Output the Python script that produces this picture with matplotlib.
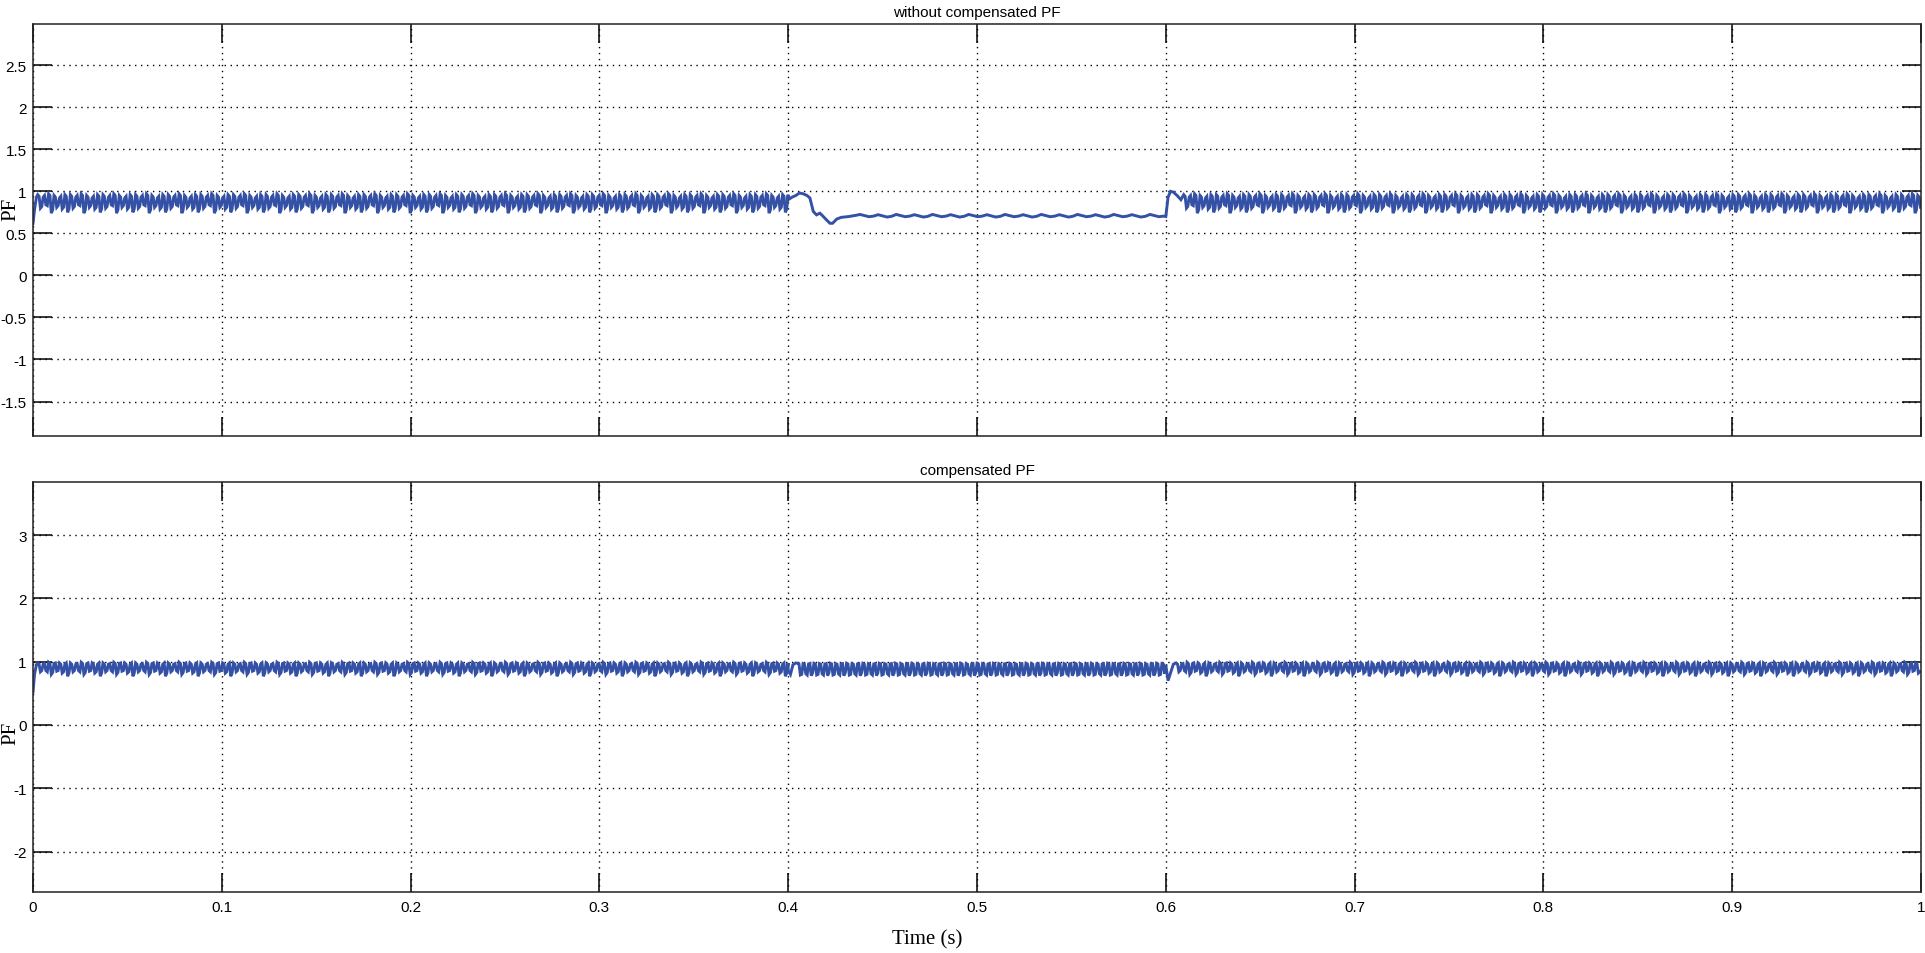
import numpy as np
import matplotlib
matplotlib.use("Agg")
import matplotlib.pyplot as plt

plt.rcParams['axes.unicode_minus'] = False

# ---------------- data ----------------
x_ticks = [0, 0.1, 0.2, 0.3, 0.4, 0.5, 0.6, 0.7, 0.8, 0.9, 1]
x_labels = ["0", "0.1", "0.2", "0.3", "0.4", "0.5", "0.6", "0.7", "0.8", "0.9", "1"]
top_yticks = [-1.5, -1, -0.5, 0, 0.5, 1, 1.5, 2, 2.5]
top_ylabels = ["-1.5", "-1", "-0.5", "0", "0.5", "1", "1.5", "2", "2.5"]
bot_yticks = [-2, -1, 0, 1, 2, 3]
bot_ylabels = ["-2", "-1", "0", "1", "2", "3"]

# ripple sample spacing (s) and measured ripple shapes
ripple_step = 0.00072
top_ripple = [0.96, 0.94, 0.80, 0.82, 0.93, 0.95, 0.84, 0.83, 0.97, 0.95, 0.74, 0.78,
              0.95, 0.93, 0.81, 0.83, 0.92, 0.94, 0.79, 0.81, 0.96, 0.94, 0.75, 0.79]
bot_ripple = [0.98, 0.96, 0.84, 0.86, 0.96, 0.97, 0.86, 0.84, 0.99, 0.97, 0.80, 0.83,
              0.97, 0.98, 0.85, 0.86, 0.98, 0.96, 0.82, 0.84, 0.96, 0.98, 0.77, 0.82]

# top trace: start-up
top_start_t = [0.0, 0.0008, 0.0018]
top_start_v = [0.62, 0.78, 0.93]
# top trace: load change at 0.4 s
top_event_t = [0.400, 0.402, 0.404, 0.406, 0.408, 0.410, 0.4115, 0.4133, 0.415,
               0.4168, 0.4186, 0.4203, 0.4221, 0.4235, 0.4257, 0.428, 0.432, 0.436]
top_event_v = [0.90, 0.93, 0.95, 0.98, 0.97, 0.95, 0.92, 0.76, 0.72,
               0.74, 0.70, 0.66, 0.62, 0.62, 0.67, 0.69, 0.70, 0.715]
mid_step = 0.0024
top_mid = [0.725, 0.712, 0.698, 0.705, 0.722, 0.708, 0.694, 0.703]
# top trace: return at 0.6 s
top_back_t = [0.600, 0.6012, 0.6025, 0.604, 0.606, 0.608]
top_back_v = [0.70, 0.93, 1.00, 0.99, 0.95, 0.90]

# bottom trace
bot_start_t = [0.0, 0.0008, 0.0018]
bot_start_v = [0.52, 0.80, 0.95]
bot_event_t = [0.400, 0.4012, 0.4025, 0.404]
bot_event_v = [0.86, 0.80, 0.95, 0.98]
bot_mid_step = 0.00072
bot_mid = [0.975, 0.965, 0.79, 0.80, 0.97, 0.96, 0.81, 0.79, 0.965, 0.97, 0.78, 0.82]
bot_back_t = [0.600, 0.6012, 0.6025, 0.604]
bot_back_v = [0.95, 0.70, 0.82, 0.96]


def segment(t0, t1, pattern, step):
    t = np.arange(t0, t1, step)
    v = np.resize(np.array(pattern), len(t))
    return t, v


def build(parts):
    ts = np.concatenate([np.asarray(p[0], float) for p in parts])
    vs = np.concatenate([np.asarray(p[1], float) for p in parts])
    return ts, vs


top_t, top_v = build([
    (top_start_t, top_start_v),
    segment(0.0025, 0.400, top_ripple, ripple_step),
    (top_event_t, top_event_v),
    segment(0.438, 0.600, top_mid, mid_step),
    (top_back_t, top_back_v),
    segment(0.6095, 1.0, top_ripple, ripple_step),
])

bot_t, bot_v = build([
    (bot_start_t, bot_start_v),
    segment(0.0025, 0.400, bot_ripple, ripple_step),
    (bot_event_t, bot_event_v),
    segment(0.405, 0.600, bot_mid, bot_mid_step),
    (bot_back_t, bot_back_v),
    segment(0.6055, 1.0, bot_ripple, ripple_step),
])

# ---------------- figure ----------------
W, H = 1925, 954
fig = plt.figure(figsize=(W / 100, H / 100), dpi=100)
fig.patch.set_facecolor('white')

L = 33 / W
Wd = (1921 - 33) / W
ax1 = fig.add_axes([L, 1 - 437 / H, Wd, (437 - 25) / H])
ax2 = fig.add_axes([L, 1 - 893 / H, Wd, (893 - 483) / H])

line_color = '#3451A6'
tick_font = dict(family='Liberation Sans', size=11)

for ax, t, v, yt, yl, ylim, title in [
    (ax1, top_t, top_v, top_yticks, top_ylabels, (-1.91, 2.99), 'without compensated PF'),
    (ax2, bot_t, bot_v, bot_yticks, bot_ylabels, (-2.64, 3.84), 'compensated PF'),
]:
    ax.plot(t, v, color=line_color, lw=2.1, solid_joinstyle='miter')
    ax.set_xlim(0, 1)
    ax.set_ylim(*ylim)
    ax.set_xticks(x_ticks)
    ax.set_yticks(yt)
    ax.set_yticklabels(yl, fontdict=tick_font)
    ax.grid(True, color='black', linestyle=(0, (1, 3.3)), linewidth=1.0)
    ax.tick_params(direction='in', length=13.9, width=1.1, top=True, right=True,
                   pad=4.5, colors='black')
    for s in ax.spines.values():
        s.set_linewidth(1.1)
        s.set_color('#222222')
    ax.set_title(title, fontsize=11, family='Liberation Sans', pad=6)

ax1.set_xticklabels([])
ax2.set_xticklabels(x_labels, fontdict=tick_font)
ax2.tick_params(axis='x', pad=6)

fig.text(10.5 / W, 1 - 209 / H, 'PF', rotation=90, ha='center', va='center',
         family='Liberation Serif', fontsize=15)
fig.text(10.5 / W, 1 - 733 / H, 'PF', rotation=90, ha='center', va='center',
         family='Liberation Serif', fontsize=15)
fig.text(927 / W, 1 - 940 / H, 'Time (s)', ha='center', va='center',
         family='Liberation Serif', fontsize=15)

fig.savefig('out.png', dpi=100)
